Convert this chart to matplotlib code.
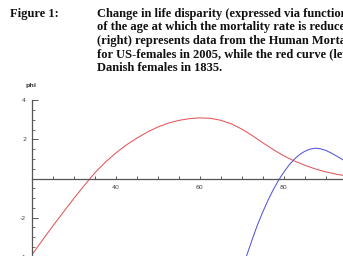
import matplotlib
matplotlib.use("Agg")
import matplotlib.pyplot as plt
from matplotlib.ticker import MultipleLocator, FixedLocator, FixedFormatter

# ---- data ----
red_age = [20, 22.5, 25, 27.5, 30, 32.5, 35, 37.5, 40, 42.5, 45, 47.5, 50, 52.5,
           55, 57.5, 60, 62.5, 65, 67.5, 70, 72.5, 75, 77.5, 80, 82.5, 85, 87.5,
           90, 92.5, 95]
red_phi = [-3.92, -3.17, -2.44, -1.73, -1.03, -0.36, 0.28, 0.83, 1.3, 1.71, 2.06,
           2.37, 2.63, 2.83, 2.97, 3.06, 3.1, 3.08, 2.98, 2.8, 2.53, 2.2, 1.83,
           1.48, 1.16, 0.9, 0.68, 0.49, 0.34, 0.22, 0.13]

blue_age = [70, 71.25, 72.5, 73.75, 75, 76.25, 77.5, 78.75, 80, 81.25, 82.5, 83.75,
            85, 86.25, 87.5, 88.75, 90, 91.25, 92.5, 93.75, 95]
blue_phi = [-4.75, -3.9, -3.12, -2.37, -1.72, -1.12, -0.58, -0.1, 0.32, 0.68, 0.98,
            1.22, 1.39, 1.5, 1.55, 1.52, 1.44, 1.31, 1.16, 1.0, 0.85]

x_ticks = [25, 30, 35, 40, 45, 50, 55, 60, 65, 70, 75, 80, 85, 90]
x_labels = ["", "", "", "40", "", "", "", "60", "", "", "", "80", "", ""]
y_ticks = [-4, -2, 2, 4]
y_labels = ["-4", "-2", "2", "4"]

fig_label = "Figure 1:"
caption = ["Change in life disparity (expressed via function",
           "of the age at which the mortality rate is reduced",
           "(right) represents data from the Human Mortality",
           "for US-females in 2005, while the red curve (left)",
           "Danish females in 1835."]

W, H = 343, 256
fig = plt.figure(figsize=(W / 100, H / 100), dpi=100)

# caption
cap_font = dict(family="Liberation Serif", weight="bold", fontsize=9.0, color="#111111")
fig.text(10 / W, 1 - 16.7 / H, fig_label, va="baseline", ha="left", **cap_font)
for i, line in enumerate(caption):
    fig.text(96.7 / W, 1 - (16.7 + i * 13.6) / H, line, va="baseline", ha="left", **cap_font)

# axes
x0_px, pxu_x = 31.7, 4.2
y0_px, pxu_y = 178.5, 19.55
xlo, xhi = 20, 95
ylo, yhi = -4.2, 4.2
left = x0_px / W
width = (xhi - xlo) * pxu_x / W
top_px = y0_px - yhi * pxu_y
bot_px = y0_px - ylo * pxu_y
ax = fig.add_axes([left, (H - bot_px) / H, width, (bot_px - top_px) / H])
ax.set_xlim(xlo, xhi)
ax.set_ylim(ylo, yhi)
ax.patch.set_alpha(0)

ax.plot(red_age, red_phi, color="#e4555b", lw=0.75, clip_on=True)
ax.plot(blue_age, blue_phi, color="#5555d8", lw=0.75, clip_on=True)

axc = "#555555"
for s in ["top", "right"]:
    ax.spines[s].set_visible(False)
ax.spines["left"].set_position(("data", 20))
ax.spines["left"].set_bounds(-4.3, 4)
ax.spines["bottom"].set_position(("data", 0))
for s in ["left", "bottom"]:
    ax.spines[s].set_color(axc)
    ax.spines[s].set_linewidth(0.9)

ax.xaxis.set_major_locator(FixedLocator(x_ticks))
ax.xaxis.set_major_formatter(FixedFormatter(x_labels))
ax.yaxis.set_major_locator(FixedLocator(y_ticks))
ax.yaxis.set_major_formatter(FixedFormatter(y_labels))
ax.yaxis.set_minor_locator(MultipleLocator(0.5))

ax.tick_params(axis="x", which="major", direction="in", length=2.5, width=0.7,
               color=axc, labelsize=4.5, pad=5, labelcolor="#444444")
ax.tick_params(axis="y", which="major", direction="in", length=4, width=0.7,
               color=axc, labelsize=4.5, pad=4, labelcolor="#444444")
ax.tick_params(axis="y", which="minor", direction="in", length=2, width=0.6, color=axc)

fig.text(25 / W, 1 - 85 / H, "phi", fontsize=4.5, family="DejaVu Sans",
         weight="bold", color="#444444", va="center", ha="left")

fig.savefig("out.png", dpi=100)
